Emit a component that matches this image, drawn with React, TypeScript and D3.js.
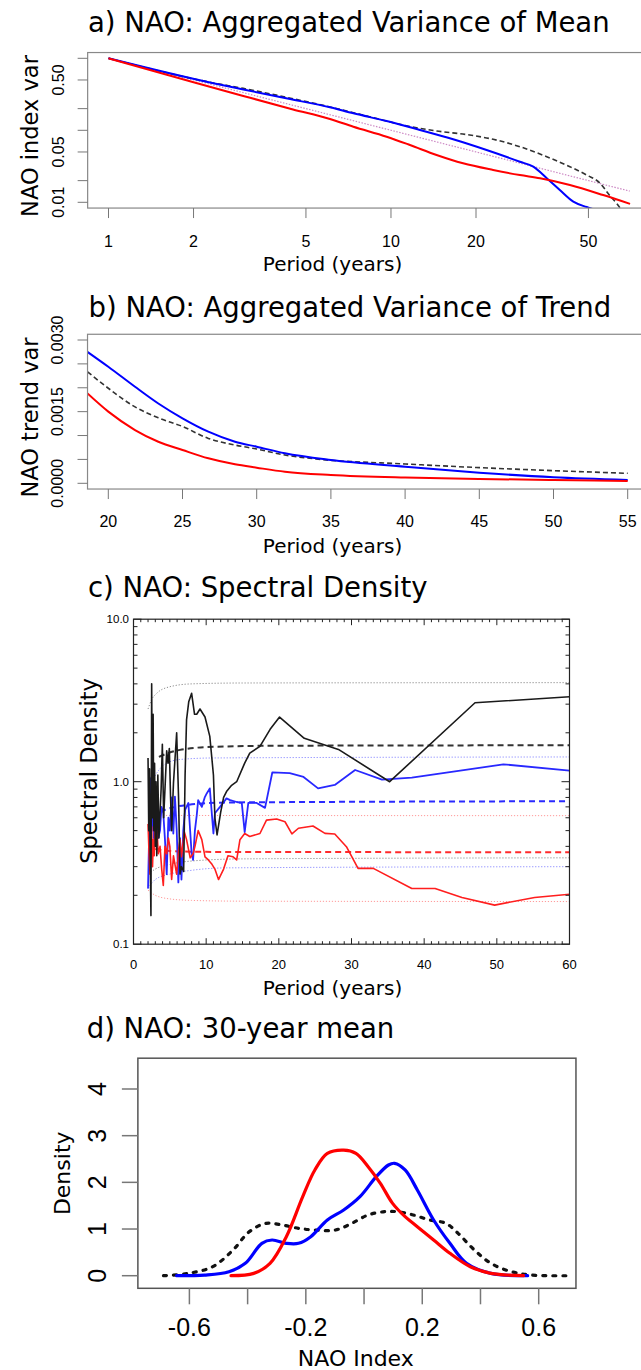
import React from "react";
import * as d3 from "d3";

type Pt = [number, number];

// a) aggregated variance of the mean: [period (years), variance]
const meanRed: Pt[] = [
  [1, 1], [2, 0.465], [3, 0.3], [4.5, 0.195], [6.08, 0.1435], [7.36, 0.112],
  [9.65, 0.0815], [11.67, 0.0625], [14.5, 0.0454], [18, 0.0348], [23, 0.0281],
  [28.6, 0.0239], [33.7, 0.0216], [43, 0.0174], [56.4, 0.0126], [70.2, 0.0095],
];
const meanBlue: Pt[] = [
  [1, 1], [2.35, 0.45], [3, 0.369], [4.3, 0.276], [6.08, 0.209], [7.36, 0.172],
  [9.65, 0.1346], [12.67, 0.101], [16.6, 0.075], [21.8, 0.0532], [28.6, 0.0366],
  [31.9, 0.0312], [35.6, 0.0216], [39.6, 0.0148], [44.2, 0.0102], [49.3, 0.0086],
  [55, 0.0075],
];
const meanBlack: Pt[] = [
  [1, 1], [2.35, 0.455], [3, 0.382], [4.3, 0.285], [6.08, 0.211], [8.4, 0.1545],
  [11, 0.1185], [14.5, 0.0978], [19, 0.086], [23, 0.075], [28.6, 0.0592],
  [35.6, 0.043], [43, 0.0312], [49.3, 0.0239], [55, 0.0184], [59.3, 0.0126],
  [62.9, 0.0097], [66, 0.0075],
];
const meanNoise: Pt[] = [[1, 1], [70, 0.0143]];
const meanXTicks = [1, 2, 5, 10, 20, 50];
const meanYTicks = [0.01, 0.02, 0.05, 0.1, 0.2, 0.5, 1];
const meanYLabels: [number, string][] = [[0.5, "0.50"], [0.05, "0.05"], [0.01, "0.01"]];

// b) aggregated variance of the trend
const trendBlue: Pt[] = [
  [18.6, 0.00275], [20, 0.00244], [21.8, 0.00202], [23.37, 0.00167], [25, 0.00136],
  [26.74, 0.00108], [28.54, 0.00087], [30, 0.000766], [31.9, 0.000628], [35, 0.000488],
  [40, 0.000349], [45, 0.000223], [50, 0.000126], [55, 0.00007],
];
const trendBlack: Pt[] = [
  [18.6, 0.002335], [20, 0.00199], [21.8, 0.0016], [23.37, 0.00137], [25, 0.00119],
  [26.74, 0.00094], [28.54, 0.0008], [30, 0.000718], [31.9, 0.000592], [34, 0.00051],
  [40, 0.000405], [45, 0.000328], [50, 0.000265], [55, 0.000209],
];
const trendRed: Pt[] = [
  [18.6, 0.00188], [20, 0.0015], [21.8, 0.001115], [23.37, 0.00087], [25, 0.000697],
  [26.74, 0.000523], [28.54, 0.000397], [30, 0.000327], [31.9, 0.000243], [35, 0.000174],
  [40, 0.000119], [45, 0.00009], [50, 0.00007], [55, 0.000049],
];
const trendXTicks = [20, 25, 30, 35, 40, 45, 50, 55];
const trendYTicks = [0, 0.0005, 0.001, 0.0015, 0.002, 0.0025, 0.003];
const trendYLabels: [number, string][] = [[0, "0.0000"], [0.0015, "0.0015"], [0.003, "0.0030"]];

// c) spectral density: [period, density]
const specBlack: Pt[] = [
  [2.0, 1.4], [2.1, 0.5], [2.2, 1.2], [2.3, 0.35], [2.4, 0.15], [2.5, 4.0], [2.6, 0.6],
  [2.7, 2.6], [2.8, 0.5], [2.9, 1.3], [3.0, 0.4], [3.1, 1.0], [3.2, 0.35], [3.35, 1.1],
  [3.5, 0.45], [3.65, 0.64], [3.8, 0.9], [3.97, 1.7], [4.15, 0.6], [4.33, 0.9],
  [4.57, 1.55], [4.75, 1.3], [4.93, 1.6], [5.1, 0.8], [5.25, 0.5], [5.5, 0.98],
  [5.94, 2.0], [6.2, 0.8], [6.4, 0.27], [6.6, 0.3], [6.9, 0.28], [7.1, 1.1], [7.3, 2.4],
  [7.6, 3.1], [8.0, 3.5], [8.4, 2.6], [8.7, 2.6], [9.15, 2.8], [9.84, 2.5], [10.5, 1.9],
  [11.0, 1.1], [11.2, 0.6], [11.5, 0.47], [12.0, 0.65], [12.4, 0.8], [12.8, 0.87],
  [13.5, 0.95], [14.2, 1.0], [15.3, 1.3], [16.0, 1.5], [17.4, 1.65], [18.8, 2.1],
  [20.1, 2.5], [23.5, 1.85], [28.2, 1.58], [35.25, 1.0], [47, 3.06], [60, 3.33],
];
const specBlue: Pt[] = [
  [2.0, 0.22], [2.2, 0.6], [2.37, 1.05], [2.5, 0.5], [2.65, 0.9], [2.8, 0.45], [2.94, 1.0],
  [3.1, 0.55], [3.2, 0.7], [3.4, 0.45], [3.65, 0.5], [3.85, 0.7], [4.1, 0.64], [4.33, 0.44],
  [4.57, 0.27], [4.8, 0.6], [5.0, 0.5], [5.25, 0.8], [5.48, 0.48], [5.7, 0.81], [5.95, 0.5],
  [6.17, 0.24], [6.4, 0.45], [6.6, 0.25], [6.85, 0.5], [7.1, 0.67], [7.55, 0.74], [8.0, 0.36],
  [8.2, 0.33], [8.45, 0.5], [8.7, 0.62], [8.9, 0.77], [9.4, 0.7], [9.8, 0.8], [10.1, 0.85],
  [10.5, 0.91], [11.0, 0.48], [11.2, 0.64], [11.9, 0.7], [12.8, 0.79], [13.3, 0.77],
  [14.2, 0.75], [14.9, 0.74], [15.3, 0.49], [15.8, 0.74], [16.95, 0.74], [18.1, 0.69],
  [19.1, 1.14], [21.5, 1.13], [23.4, 1.07], [25.4, 0.91], [27.7, 0.955], [30.5, 1.18],
  [34.2, 1.03], [38.3, 1.06], [50.9, 1.28], [60, 1.17],
];
const specRed: Pt[] = [
  [2.0, 0.55], [2.15, 0.35], [2.27, 0.27], [2.4, 0.45], [2.5, 0.53], [2.62, 0.3], [2.73, 0.44],
  [2.85, 0.35], [2.94, 0.61], [3.1, 0.4], [3.25, 0.5], [3.4, 0.36], [3.65, 0.4], [3.88, 0.29],
  [4.1, 0.23], [4.33, 0.4], [4.57, 0.36], [4.8, 0.45], [5.0, 0.4], [5.25, 0.25], [5.5, 0.35],
  [5.94, 0.27], [6.2, 0.38], [6.4, 0.44], [6.6, 0.345], [7.0, 0.49], [7.3, 0.44], [7.8, 0.34],
  [8.2, 0.36], [8.46, 0.4], [8.9, 0.5], [9.4, 0.44], [9.84, 0.345], [10.3, 0.33], [10.8, 0.31],
  [11.2, 0.29], [11.7, 0.25], [12.4, 0.29], [13.0, 0.35], [13.7, 0.345], [14.2, 0.33],
  [14.65, 0.44], [15.3, 0.48], [16.0, 0.46], [17.4, 0.48], [18.3, 0.58], [19.7, 0.59],
  [20.85, 0.567], [21.8, 0.477], [22.7, 0.517], [24.7, 0.534], [26.35, 0.481], [27.7, 0.477],
  [29.3, 0.398], [30.9, 0.293], [33.0, 0.293], [38.3, 0.22], [41.5, 0.22], [45.2, 0.194],
  [49.7, 0.174], [55.2, 0.194], [60, 0.203],
];
// background spectra and their bounds
const blackUpper: Pt[] = [[2.0, 2.8], [2.5, 3.2], [3.2, 3.5], [5, 3.84], [8, 4.0], [15, 4.05], [60, 4.07]];
const blackMean: Pt[] = [[3.5, 1.42], [4.1, 1.46], [6.4, 1.57], [11, 1.64], [20, 1.665], [60, 1.675]];
const blackLower: Pt[] = [[2.0, 0.27], [3, 0.29], [5, 0.31], [8, 0.325], [15, 0.335], [60, 0.34]];
const blueUpper: Pt[] = [[2.27, 0.93], [3.2, 1.13], [4.6, 1.3], [6.4, 1.37], [11, 1.4], [60, 1.42]];
const blueMean: Pt[] = [[3.65, 0.654], [5, 0.686], [8.7, 0.73], [13.3, 0.745], [60, 0.758]];
const blueLower: Pt[] = [[2.0, 0.22], [3, 0.25], [5, 0.27], [8, 0.285], [13, 0.295], [60, 0.3]];
const redUpper: Pt[] = [[2.0, 0.63], [3, 0.62], [60, 0.618]];
const redMean: Pt[] = [[3.0, 0.385], [5, 0.375], [10, 0.37], [60, 0.368]];
const redLower: Pt[] = [[2.0, 0.215], [3, 0.2], [5, 0.19], [8, 0.186], [15, 0.184], [60, 0.183]];
const specXTicks = [0, 10, 20, 30, 40, 50, 60];
const specYLabels: [number, string][] = [[0.1, "0.1"], [1, "1.0"], [10, "10.0"]];

// d) density of 30-year means: [NAO index, density]
const densRed: Pt[] = [
  [-0.457, 0], [-0.379, 0.05], [-0.323, 0.265], [-0.267, 0.836], [-0.211, 1.69],
  [-0.169, 2.265], [-0.126, 2.62], [-0.07, 2.69], [-0.028, 2.62], [0.014, 2.336],
  [0.056, 1.98], [0.098, 1.55], [0.141, 1.265], [0.183, 1.05], [0.239, 0.765],
  [0.295, 0.48], [0.365, 0.193], [0.436, 0.05], [0.548, 0],
];
const densBlue: Pt[] = [
  [-0.644, 0], [-0.548, 0.014], [-0.464, 0.086], [-0.408, 0.265], [-0.351, 0.694],
  [-0.316, 0.765], [-0.267, 0.694], [-0.225, 0.694], [-0.183, 0.836], [-0.126, 1.194],
  [-0.07, 1.408], [-0.014, 1.694], [0.042, 2.122], [0.084, 2.372], [0.105, 2.408],
  [0.141, 2.265], [0.183, 1.837], [0.239, 1.194], [0.295, 0.694], [0.352, 0.265],
  [0.436, 0.05], [0.562, 0],
];
const densBlack: Pt[] = [
  [-0.689, 0], [-0.604, 0.05], [-0.52, 0.193], [-0.45, 0.551], [-0.394, 0.944],
  [-0.337, 1.122], [-0.281, 1.086], [-0.225, 1.015], [-0.169, 0.979], [-0.098, 0.979],
  [-0.042, 1.122], [0.014, 1.301], [0.07, 1.372], [0.112, 1.372], [0.169, 1.301],
  [0.225, 1.194], [0.281, 1.122], [0.323, 0.908], [0.379, 0.551], [0.436, 0.265],
  [0.506, 0.086], [0.576, 0.014], [0.71, 0],
];
const densXTicks = [-0.6, -0.4, -0.2, 0, 0.2, 0.4, 0.6];
const densXLabels: [number, string][] = [[-0.6, "-0.6"], [-0.2, "-0.2"], [0.2, "0.2"], [0.6, "0.6"]];
const densYTicks = [0, 1, 2, 3, 4];

const SANS = "'DejaVu Sans', sans-serif";
const HELV = "'Liberation Sans', Arial, sans-serif";

const padLog = (lo: number, hi: number) => {
  const a = Math.log10(lo), b = Math.log10(hi), p = 0.04 * (b - a);
  return [10 ** (a - p), 10 ** (b + p)];
};
const padLin = (lo: number, hi: number) => {
  const p = 0.04 * (hi - lo);
  return [lo - p, hi + p];
};

function linePath(
  data: Pt[],
  x: (v: number) => number,
  y: (v: number) => number,
  curve: d3.CurveFactory = d3.curveMonotoneX
) {
  return (
    d3
      .line<Pt>()
      .x((d) => x(d[0]))
      .y((d) => y(d[1]))
      .curve(curve)(data) || ""
  );
}

function PanelMean() {
  const x = d3.scaleLog().domain([1, 70]).range([108.5, 629.7]);
  const y = d3.scaleLog().domain([0.01, 1]).range([202.3, 58.3]);
  const [ux0, ux1] = padLog(1, 70).map(x);
  const [uy0, uy1] = padLog(0.01, 1).map(y);
  return (
    <g>
      <text x={88} y={31.7} fontFamily={SANS} fontSize={27.5}>
        a) NAO: Aggregated Variance of Mean
      </text>
      <clipPath id="clipA">
        <rect x={ux0} y={uy1} width={ux1 - ux0} height={uy0 - uy1} />
      </clipPath>
      <g clipPath="url(#clipA)" fill="none">
        <path d={linePath(meanNoise, x, y, d3.curveLinear)} stroke="#cc88c4" strokeWidth={1.2} strokeDasharray="1.5,1.5" />
        <path d={linePath(meanBlack, x, y)} stroke="#333" strokeWidth={1.6} strokeDasharray="5,3" />
        <path d={linePath(meanBlue, x, y)} stroke="#0000ff" strokeWidth={2} />
        <path d={linePath(meanRed, x, y)} stroke="#ff0000" strokeWidth={2} />
      </g>
      <rect x={ux0} y={uy1} width={ux1 - ux0} height={uy0 - uy1} fill="none" stroke="#888" strokeWidth={1.2} />
      {meanXTicks.map((t) => (
        <g key={t}>
          <line x1={x(t)} x2={x(t)} y1={uy0} y2={uy0 + 10} stroke="#777" />
          <text x={x(t)} y={246.7} textAnchor="middle" fontFamily={HELV} fontSize={16}>{t}</text>
        </g>
      ))}
      {meanYTicks.map((t) => (
        <line key={t} x1={ux0 - 10} x2={ux0} y1={y(t)} y2={y(t)} stroke="#777" />
      ))}
      {meanYLabels.map(([v, s]) => (
        <text key={s} transform={`translate(64,${y(v)}) rotate(-90)`} textAnchor="middle" fontFamily={HELV} fontSize={16}>{s}</text>
      ))}
      <text x={332.5} y={270.5} textAnchor="middle" fontFamily={SANS} fontSize={20}>Period (years)</text>
      <text transform="translate(38,136) rotate(-90)" textAnchor="middle" fontFamily={SANS} fontSize={22.5}>NAO index var</text>
    </g>
  );
}

function PanelTrend() {
  const x = d3.scaleLinear().domain([20, 55]).range([108.3, 627.7]);
  const y = d3.scaleLinear().domain([0, 0.003]).range([483.3, 340]);
  const [ux0, ux1] = padLin(20, 55).map(x);
  const [uy0, uy1] = padLin(0, 0.003).map(y);
  return (
    <g>
      <text x={88.5} y={317} fontFamily={SANS} fontSize={27.5}>
        b) NAO: Aggregated Variance of Trend
      </text>
      <clipPath id="clipB">
        <rect x={ux0} y={uy1} width={ux1 - ux0} height={uy0 - uy1} />
      </clipPath>
      <g clipPath="url(#clipB)" fill="none">
        <path d={linePath(trendBlack, x, y)} stroke="#333" strokeWidth={1.6} strokeDasharray="5,3" />
        <path d={linePath(trendBlue, x, y)} stroke="#0000ff" strokeWidth={2} />
        <path d={linePath(trendRed, x, y)} stroke="#ff0000" strokeWidth={2} />
      </g>
      <rect x={ux0} y={uy1} width={ux1 - ux0} height={uy0 - uy1} fill="none" stroke="#888" strokeWidth={1.2} />
      {trendXTicks.map((t) => (
        <g key={t}>
          <line x1={x(t)} x2={x(t)} y1={uy0} y2={uy0 + 10} stroke="#777" />
          <text x={x(t)} y={527.3} textAnchor="middle" fontFamily={HELV} fontSize={16}>{t}</text>
        </g>
      ))}
      {trendYTicks.map((t) => (
        <line key={t} x1={ux0 - 10} x2={ux0} y1={y(t)} y2={y(t)} stroke="#777" />
      ))}
      {trendYLabels.map(([v, s]) => (
        <text key={s} transform={`translate(63.3,${y(v)}) rotate(-90)`} textAnchor="middle" fontFamily={HELV} fontSize={16}>{s}</text>
      ))}
      <text x={332.5} y={553} textAnchor="middle" fontFamily={SANS} fontSize={20}>Period (years)</text>
      <text transform="translate(38,417.5) rotate(-90)" textAnchor="middle" fontFamily={SANS} fontSize={22.5}>NAO trend var</text>
    </g>
  );
}

function PanelSpectrum() {
  const x = d3.scaleLinear().domain([0, 60]).range([133.5, 569.5]);
  const y = d3.scaleLog().domain([0.1, 10]).range([944.2, 619.2]);
  const [x0, x1] = x.range();
  const [y0, y1] = y.range();
  const minorX = d3.range(0, 61).filter((v) => v % 10 !== 0);
  const majorY = [0.1, 1, 10];
  const minorY = [2, 3, 4, 5, 6, 7, 8, 9].flatMap((m) => [m * 0.1, m]);
  const ref = (d: Pt[], color: string, dash: string, w: number) => (
    <path d={linePath(d, x, y)} stroke={color} strokeWidth={w} strokeDasharray={dash} />
  );
  return (
    <g>
      <text x={88} y={597.3} fontFamily={SANS} fontSize={27.5}>c) NAO: Spectral Density</text>
      <clipPath id="clipC">
        <rect x={x0} y={y1} width={x1 - x0} height={y0 - y1} />
      </clipPath>
      <g clipPath="url(#clipC)" fill="none">
        {ref(blackUpper, "#8a8a8a", "1.2,1.8", 1)}
        {ref(blackLower, "#8a8a8a", "1.2,1.8", 1)}
        {ref(blueUpper, "#8c8cff", "1.2,1.8", 1)}
        {ref(blueLower, "#8c8cff", "1.2,1.8", 1)}
        {ref(redUpper, "#ff9a9a", "1.2,1.8", 1)}
        {ref(redLower, "#ff9a9a", "1.2,1.8", 1)}
        {ref(blackMean, "#333", "6,4", 2)}
        {ref(blueMean, "#2a2aff", "6,4", 2)}
        {ref(redMean, "#ff2a2a", "6,4", 2)}
        <path d={linePath(specBlue, x, y, d3.curveLinear)} stroke="#2828ff" strokeWidth={1.8} strokeLinejoin="round" />
        <path d={linePath(specRed, x, y, d3.curveLinear)} stroke="#ff1e1e" strokeWidth={1.6} strokeLinejoin="round" />
        <path d={linePath(specBlack, x, y, d3.curveLinear)} stroke="#1a1a1a" strokeWidth={1.6} strokeLinejoin="round" />
      </g>
      <rect x={x0} y={y1} width={x1 - x0} height={y0 - y1} fill="none" stroke="#222" strokeWidth={1.2} />
      <g stroke="#222" strokeWidth={1}>
        {specXTicks.map((t) => (
          <g key={t}>
            <line x1={x(t)} x2={x(t)} y1={y0} y2={y0 - 6} />
            <line x1={x(t)} x2={x(t)} y1={y1} y2={y1 + 6} />
          </g>
        ))}
        {minorX.map((t) => (
          <g key={t}>
            <line x1={x(t)} x2={x(t)} y1={y0} y2={y0 - 3} />
            <line x1={x(t)} x2={x(t)} y1={y1} y2={y1 + 3} />
          </g>
        ))}
        {majorY.map((t) => (
          <g key={t}>
            <line x1={x0} x2={x0 + 8} y1={y(t)} y2={y(t)} />
            <line x1={x1} x2={x1 - 8} y1={y(t)} y2={y(t)} />
          </g>
        ))}
        {minorY.map((t) => (
          <g key={t}>
            <line x1={x0} x2={x0 + 4} y1={y(t)} y2={y(t)} />
            <line x1={x1} x2={x1 - 4} y1={y(t)} y2={y(t)} />
          </g>
        ))}
      </g>
      {specXTicks.map((t) => (
        <text key={t} x={x(t)} y={969.3} textAnchor="middle" fontFamily={HELV} fontSize={13}>{t}</text>
      ))}
      {specYLabels.map(([v, s]) => (
        <text key={s} x={129} y={y(v) + 4} textAnchor="end" fontFamily={HELV} fontSize={11.5}>{s}</text>
      ))}
      <text x={332.5} y={995} textAnchor="middle" fontFamily={SANS} fontSize={20}>Period (years)</text>
      <text transform="translate(97,771) rotate(-90)" textAnchor="middle" fontFamily={SANS} fontSize={22.5}>Spectral Density</text>
    </g>
  );
}

function PanelDensity() {
  const x = d3.scaleLinear().domain([-0.6, 0.6]).range([189.4, 538.7]);
  const y = d3.scaleLinear().domain([0, 4]).range([1275.7, 1089]);
  const [ux0, ux1] = [-0.777, 0.728].map(x);
  const [uy0, uy1] = [-0.27, 4.66].map(y);
  return (
    <g>
      <text x={86.7} y={1038.3} fontFamily={SANS} fontSize={27.5}>d) NAO: 30-year mean</text>
      <g fill="none" strokeLinecap="round">
        <path d={linePath(densBlack, x, y, d3.curveCatmullRom)} stroke="#111" strokeWidth={3.2} strokeDasharray="3,7" />
        <path d={linePath(densBlue, x, y, d3.curveCatmullRom)} stroke="#0000ff" strokeWidth={3.2} />
        <path d={linePath(densRed, x, y, d3.curveCatmullRom)} stroke="#ff0000" strokeWidth={3.2} />
      </g>
      <rect x={ux0} y={uy1} width={ux1 - ux0} height={uy0 - uy1} fill="none" stroke="#555" strokeWidth={1.5} />
      {densXTicks.map((t) => (
        <line key={t} x1={x(t)} x2={x(t)} y1={uy0} y2={uy0 + 16} stroke="#777" strokeWidth={1.5} />
      ))}
      {densXLabels.map(([v, s]) => (
        <text key={s} x={x(v)} y={1336} textAnchor="middle" fontFamily={HELV} fontSize={25}>{s}</text>
      ))}
      {densYTicks.map((t) => (
        <g key={t}>
          <line x1={ux0 - 16} x2={ux0} y1={y(t)} y2={y(t)} stroke="#777" strokeWidth={1.5} />
          <text transform={`translate(105.5,${y(t)}) rotate(-90)`} textAnchor="middle" fontFamily={HELV} fontSize={25}>{t}</text>
        </g>
      ))}
      <text x={355.8} y={1366} textAnchor="middle" fontFamily={SANS} fontSize={22}>NAO Index</text>
      <text transform="translate(70,1173.3) rotate(-90)" textAnchor="middle" fontFamily={SANS} fontSize={22}>Density</text>
    </g>
  );
}

export default function App() {
  return (
    <svg
      width={641}
      height={1370}
      viewBox="0 0 641 1370"
      style={{ position: "absolute", left: 0, top: 0, background: "#fff" }}
    >
      <rect width={641} height={1370} fill="#fff" />
      <PanelMean />
      <PanelTrend />
      <PanelSpectrum />
      <PanelDensity />
    </svg>
  );
}
